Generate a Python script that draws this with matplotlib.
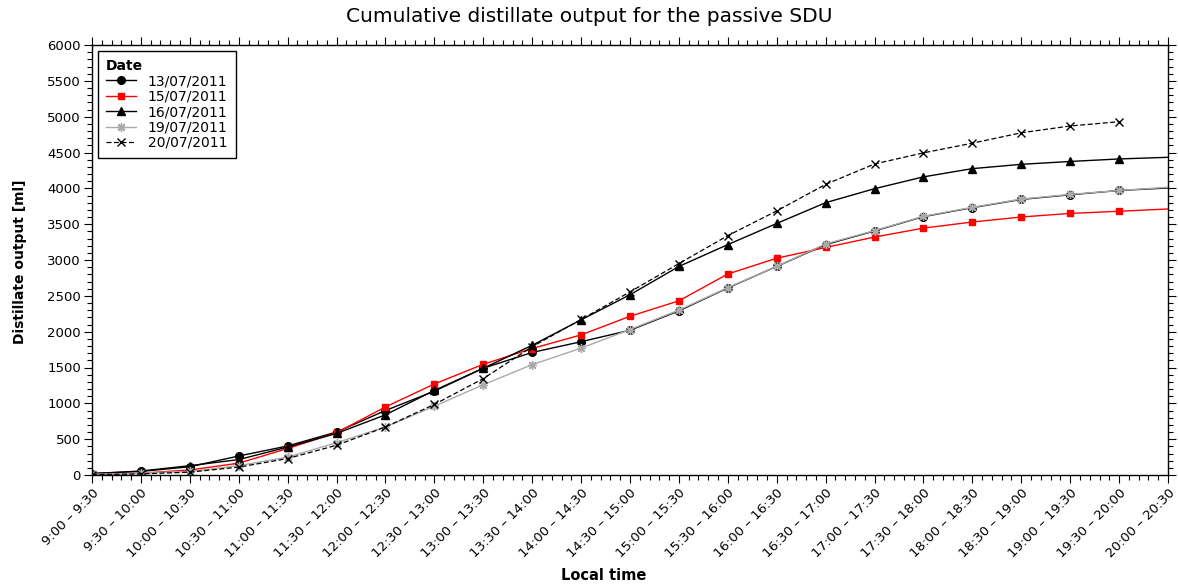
import matplotlib
matplotlib.use("Agg")
import matplotlib.pyplot as plt
from matplotlib.ticker import MultipleLocator, FixedLocator

# ---- data ----
time_labels = ["9:00 – 9:30", "9:30 – 10:00", "10:00 – 10:30", "10:30 – 11:00",
               "11:00 – 11:30", "11:30 – 12:00", "12:00 – 12:30", "12:30 – 13:00",
               "13:00 – 13:30", "13:30 – 14:00", "14:00 – 14:30", "14:30 – 15:00",
               "15:00 – 15:30", "15:30 – 16:00", "16:00 – 16:30", "16:30 – 17:00",
               "17:00 – 17:30", "17:30 – 18:00", "18:00 – 18:30", "18:30 – 19:00",
               "19:00 – 19:30", "19:30 – 20:00", "20:00 – 20:30"]

d13 = [20, 50, 115, 265, 405, 600, 900, 1170, 1490, 1710, 1860, 2020, 2290, 2610,
       2910, 3215, 3405, 3605, 3730, 3845, 3910, 3970, 4005]
d15 = [5, 25, 70, 165, 370, 590, 950, 1270, 1545, 1765, 1955, 2215, 2430, 2805,
       3025, 3175, 3320, 3445, 3530, 3600, 3650, 3680, 3712]
d16 = [20, 55, 130, 215, 390, 580, 840, 1180, 1490, 1810, 2165, 2515, 2910, 3215,
       3510, 3800, 3995, 4160, 4275, 4335, 4375, 4410, 4433]
d19 = [10, 25, 50, 130, 250, 450, 670, 960, 1260, 1540, 1770, 2030, 2300, 2615,
       2910, 3225, 3410, 3610, 3735, 3850, 3915, 3970, 4015]
d20 = [5, 15, 40, 110, 230, 415, 670, 985, 1345, 1790, 2170, 2555, 2950, 3340,
       3685, 4055, 4340, 4495, 4630, 4775, 4870, 4930]

dates = ["13/07/2011", "15/07/2011", "16/07/2011", "19/07/2011", "20/07/2011"]

plt.rcParams['font.family'] = ['DejaVu Sans']

W, H = 1178, 588
fig = plt.figure(figsize=(W / 100, H / 100), dpi=100)
ax = fig.add_axes([92 / W, 1 - 475 / H, 1076 / W, 430 / H])

x13 = list(range(len(d13)))
x20 = list(range(len(d20)))
mk = list(range(22))

ax.plot(x13, d13, color='black', lw=1.0, marker='o', ms=5.5, label=dates[0], markevery=mk)
ax.plot(x13, d15, color='#ff0000', lw=1.0, marker='s', ms=4.5, label=dates[1], markevery=mk)
ax.plot(x13, d16, color='black', lw=1.0, marker='^', ms=5.5, label=dates[2], markevery=mk)
ax.plot(x13, d19, color='#aaaaaa', lw=1.0, marker=(8, 2, 0), ms=6.5, mew=1.0, label=dates[3], markevery=mk)
ax.plot(x20, d20, color='black', lw=0.9, ls=(0, (4, 2)), marker='x', ms=6, mew=1.0, label=dates[4])

ax.set_xlim(0, 22)
ax.set_ylim(0, 6000)
ax.xaxis.set_major_locator(FixedLocator(range(23)))
ax.set_xticklabels(time_labels, rotation=45, ha='right', rotation_mode='anchor', fontsize=9.5)
ax.xaxis.set_minor_locator(MultipleLocator(0.2))
ax.yaxis.set_major_locator(MultipleLocator(500))
ax.yaxis.set_minor_locator(MultipleLocator(100))
ax.tick_params(axis='y', labelsize=9.5)
ax.tick_params(which='both', direction='out', top=True, right=True, width=0.8)
ax.tick_params(which='major', length=6, pad=2)
ax.tick_params(which='minor', length=3.5)
for s in ax.spines.values():
    s.set_linewidth(1.0)

fig.text(0.5, 1 - 17 / H, "Cumulative distillate output for the passive SDU",
         ha='center', va='center', fontsize=14.5)
fig.text(20 / W, 1 - 262 / H, "Distillate output [ml]", rotation=90, ha='center', va='center',
         fontsize=10, fontweight='bold')
fig.text(604 / W, 1 - 576 / H, "Local time", ha='center', va='center',
         fontsize=10.5, fontweight='bold')

leg = ax.legend(title="Date", loc='upper left', fontsize=10, frameon=True, fancybox=False,
                edgecolor='black', framealpha=1, handlelength=2.2, borderaxespad=0.4,
                labelspacing=0.1, borderpad=0.6)
leg.get_frame().set_linewidth(1.0)
leg.get_title().set_fontweight('bold')
leg.get_title().set_fontsize(10)
leg._legend_box.align = "left"

fig.savefig("out.png", dpi=100)
